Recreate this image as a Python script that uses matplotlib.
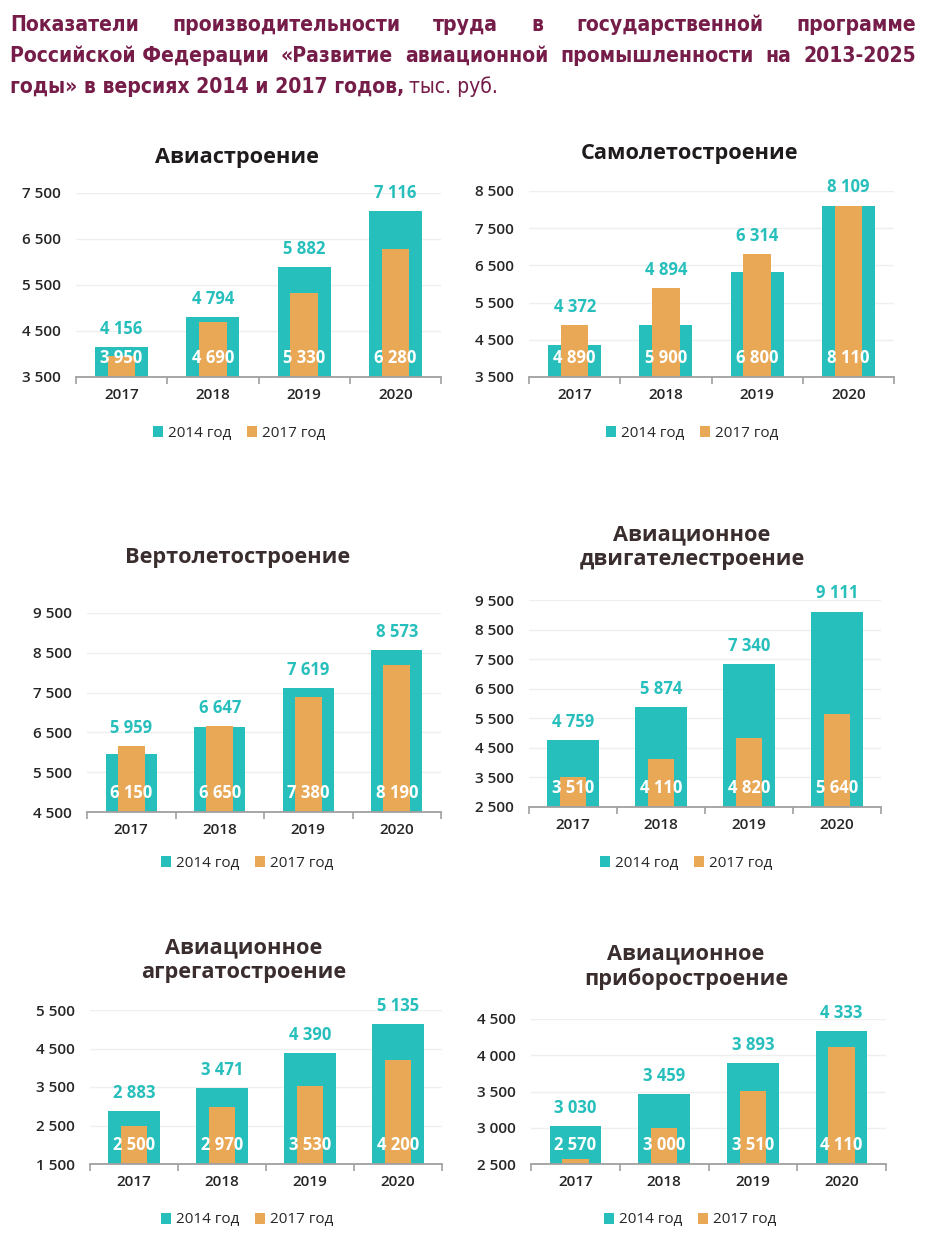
import matplotlib
matplotlib.use("Agg")
import matplotlib.pyplot as plt
from matplotlib.patches import Patch

W, H = 941, 1247
CYAN = "#27BFBC"
ORANGE = "#E8A856"
MAROON = "#751C48"

years = ["2017", "2018", "2019", "2020"]
legend_labels = ["2014 год", "2017 год"]

titles = ["Авиастроение", "Самолетостроение", "Вертолетостроение",
          "Авиационное\nдвигателестроение", "Авиационное\nагрегатостроение",
          "Авиационное\nприборостроение"]

v2014_avia = [4156, 4794, 5882, 7116]
v2017_avia = [3950, 4690, 5330, 6280]
v2014_samolet = [4372, 4894, 6314, 8109]
v2017_samolet = [4890, 5900, 6800, 8110]
v2014_vertolet = [5959, 6647, 7619, 8573]
v2017_vertolet = [6150, 6650, 7380, 8190]
v2014_dvig = [4759, 5874, 7340, 9111]
v2017_dvig = [3510, 4110, 4820, 5640]
v2014_agreg = [2883, 3471, 4390, 5135]
v2017_agreg = [2500, 2970, 3530, 4200]
v2014_prib = [3030, 3459, 3893, 4333]
v2017_prib = [2570, 3000, 3510, 4110]

yticks_avia = [3500, 4500, 5500, 6500, 7500]
yticks_samolet = [3500, 4500, 5500, 6500, 7500, 8500]
yticks_vertolet = [4500, 5500, 6500, 7500, 8500, 9500]
yticks_dvig = [2500, 3500, 4500, 5500, 6500, 7500, 8500, 9500]
yticks_agreg = [1500, 2500, 3500, 4500, 5500]
yticks_prib = [2500, 3000, 3500, 4000, 4500]

series = [
    (v2014_avia, v2017_avia, yticks_avia),
    (v2014_samolet, v2017_samolet, yticks_samolet),
    (v2014_vertolet, v2017_vertolet, yticks_vertolet),
    (v2014_dvig, v2017_dvig, yticks_dvig),
    (v2014_agreg, v2017_agreg, yticks_agreg),
    (v2014_prib, v2017_prib, yticks_prib),
]

# layout in pixels: L, R, T(top tick), B(bottom), title xy, category y, legend xy, title color
layout = [
    (76, 441, 193, 377, (237, 157), 397, (239, 433), "#1f1b1c"),
    (529, 894, 191, 377, (689, 153), 397, (692, 433), "#1f1b1c"),
    (87, 441, 613, 812, (238, 557), 832, (247, 863), "#3a2d2d"),
    (529, 881, 600, 807, (692, 547), 827, (686, 863), "#3a2d2d"),
    (90, 442, 1010, 1164, (244, 960), 1183, (247, 1220), "#3a2d2d"),
    (531, 886, 1019, 1164, (686, 967), 1183, (690, 1220), "#3a2d2d"),
]

FONT = ["Open Sans", "DejaVu Sans"]
plt.rcParams["font.family"] = FONT

fig = plt.figure(figsize=(W / 100, H / 100), dpi=100)
fig.patch.set_facecolor("white")


def fx(x):
    return x / W


def fy(y):
    return 1 - y / H


def fmt(v):
    return f"{v:,}".replace(",", " ")


for (a, b, yt), (L, R, T, B, txy, caty, lxy, tcol), title in zip(series, layout, titles):
    ax = fig.add_axes([fx(L), fy(B), (R - L) / W, (B - T) / H])
    x = list(range(len(years)))
    ax.bar(x, a, width=0.58, color=CYAN, zorder=2)
    ax.bar(x, b, width=0.30, color=ORANGE, zorder=3)
    ax.set_ylim(yt[0], yt[-1])
    ax.set_xlim(-0.5, len(years) - 0.5)
    ax.set_yticks(yt)
    ax.set_yticklabels([fmt(v) for v in yt])
    ax.grid(axis="y", color="#EFEFEF", linewidth=1.0, zorder=0)
    ax.set_axisbelow(True)
    for s in ["left", "right", "top"]:
        ax.spines[s].set_visible(False)
    ax.spines["bottom"].set_color("#A0A0A0")
    ax.spines["bottom"].set_linewidth(1.3)
    ax.spines["bottom"].set_zorder(5)
    ax.tick_params(axis="y", length=0, pad=11, labelsize=11, labelcolor="#262626")
    ax.set_xticks(x)
    ax.set_xticklabels(years)
    ax.tick_params(axis="x", which="major", length=0, pad=8, labelsize=11, labelcolor="#262626")
    ax.set_xticks([i - 0.5 for i in range(len(years) + 1)], minor=True)
    ax.tick_params(axis="x", which="minor", length=5, width=1.2, color="#A0A0A0", direction="out")
    for lab in ax.get_yticklabels() + ax.get_xticklabels():
        lab.set_fontweight("semibold")
    for i, (va_, vb_) in enumerate(zip(a, b)):
        ax.annotate(fmt(va_), (i, max(va_, vb_)), xytext=(0, 13), textcoords="offset points",
                    ha="center", va="center", color=CYAN, fontsize=12, fontweight="bold",
                    annotation_clip=False, zorder=6)
        ax.annotate(fmt(vb_), (i, yt[0]), xytext=(0, 14), textcoords="offset points",
                    ha="center", va="center", color="white", fontsize=12, fontweight="bold",
                    annotation_clip=False, zorder=6)
    fig.text(fx(txy[0]), fy(txy[1]), title, ha="center", va="center", fontsize=15.7,
             fontweight="bold", color=tcol, linespacing=1.2)
    handles = [Patch(facecolor=CYAN, edgecolor="none"), Patch(facecolor=ORANGE, edgecolor="none")]
    fig.legend(handles, legend_labels, loc="center", bbox_to_anchor=(fx(lxy[0]), fy(lxy[1])),
               ncol=2, frameon=False, fontsize=11, handlelength=0.7, handleheight=0.7,
               handletextpad=0.3, columnspacing=1.0, labelcolor="#262626")

# ---- justified main title ----
TFONT = ["DejaVu Sans"]
TSIZE = 15.1
fig.canvas.draw()
renderer = fig.canvas.get_renderer()


def tkw(weight="bold"):
    return dict(fontsize=TSIZE, fontweight=weight, family=TFONT, fontstretch="condensed",
                color=MAROON, va="center", ha="left")


def justify(words, y, x0, x1):
    ts = [fig.text(0, fy(y), w, **tkw()) for w in words]
    ws = [t.get_window_extent(renderer).width for t in ts]
    gap = (x1 - x0 - sum(ws)) / (len(words) - 1)
    xc = x0
    for t, w in zip(ts, ws):
        t.set_x(fx(xc))
        xc += w + gap


justify(["Показатели", "производительности", "труда", "в", "государственной", "программе"], 25, 10, 916)
justify(["Российской\u00a0Федерации", "«Развитие", "авиационной", "промышленности", "на", "2013-2025"], 56, 10, 916)
t1 = fig.text(fx(10), fy(87), "годы» в версиях 2014 и 2017 годов,", **tkw())
w1 = t1.get_window_extent(renderer).width
fig.text(fx(10 + w1 + 5), fy(87), "тыс. руб.", **tkw("normal"))

fig.savefig("out.png", dpi=100, facecolor="white")
